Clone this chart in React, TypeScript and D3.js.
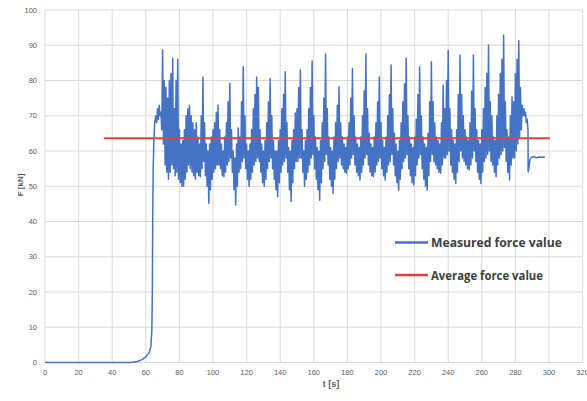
import React from "react";
import * as d3 from "d3";

// Ramp-up before the oscillating phase: [t (s), F (kN)]
const rampPoints: [number, number][] = [
  [0, 0], [20, 0], [40, 0], [50, 0], [52, 0.05], [55, 0.3], [58, 0.9], [60, 1.6],
  [62, 2.8], [63, 4.5], [63.6, 9], [63.9, 20], [64.1, 40], [64.4, 55], [64.8, 63],
  [65.3, 68],
];

// Oscillating phase, read per second from t = 66 s:
// top of the vibration band (upperBand) and bottom of it half a second later (lowerBand)
const oscStart = 66;
const upperBand: number[] = [
  70, 72, 73, 71, 88.7, 80, 78, 75, 80, 82, // 66-75
  86.3, 72, 80, 86, 66, 62, 63, 66, 70, 72, // 76-85
  73, 70, 68, 66, 68, 64, 62, 70, 81, 68, // 86-95
  62, 60, 62, 64, 66, 68, 71, 73, 66, 62, // 96-105
  60, 64, 68, 74, 79.2, 66, 60, 58, 62, 66.5, // 106-115
  64, 74, 83.9, 70, 62, 60, 62, 66, 72, 76, // 116-125
  81, 78, 66, 62, 60, 63, 68, 74, 80.6, 70, // 126-135
  63, 60, 60, 63, 66, 72, 76, 82.5, 68, 61, // 136-145
  60, 63, 66, 70.8, 72, 78, 83, 66, 60, 63, // 146-155
  66, 72, 78, 85.5, 70, 64, 61, 60, 63, 68, // 156-165
  75, 87.5, 72, 64, 61, 60, 64, 68, 73, 78.2, // 166-175
  68, 64, 62, 61, 64, 68, 75, 83.4, 70, 64, // 176-185
  62, 61, 64, 70, 77, 87.5, 72, 65, 62, 61, // 186-195
  64, 68, 74, 81, 68, 63, 61, 64, 70, 76, // 196-205
  84.4, 72, 65, 62, 60, 63, 68, 74, 79, 86.3, // 206-215
  70, 64, 62, 61, 64, 69, 76, 83.9, 70, 64, // 216-225
  62, 61, 65, 74, 85.3, 74, 68, 64, 63, 62, // 226-235
  68, 78.7, 72, 80, 88.5, 72, 66, 63, 62, 66, // 236-245
  76, 87.2, 76, 70, 66, 64, 63, 68, 77, 87.2, // 246-255
  72, 66, 63, 62, 66, 72, 78, 82, 90.1, 74, // 256-265
  70, 64, 63, 70, 76, 82, 86, 92.9, 74, 66, // 266-275
  64, 70, 75.4, 74, 82, 86, 91.3, 78, 73, 72, // 276-285
  71, 69, // 286-287
];
const lowerBand: number[] = [
  68, 69, 70, 66, 62, 56, 54, 52, 54, 56, // 66-75
  55, 53, 54, 52, 51, 50, 50, 52, 54, 56, // 76-85
  55, 54, 53, 52, 54, 53, 52.7, 55, 57, 53, // 86-95
  50, 45.2, 49, 52, 54, 55, 56, 56, 55, 53, // 96-105
  52.7, 54, 56, 57, 58, 54, 49, 44.7, 50, 54, // 106-115
  55, 57, 58, 55, 52, 50, 52, 54, 56, 57, // 116-125
  58, 57, 54, 51, 50, 52, 55, 57, 58, 55, // 126-135
  52, 49, 47, 51, 54, 56, 57, 58, 54, 49, // 136-145
  45.6, 51, 55, 57, 57, 58, 58, 54, 50, 52, // 146-155
  54, 56, 58, 59, 55, 52, 49, 46, 51, 55, // 156-165
  57, 59, 56, 52, 50, 48, 52, 55, 57, 58, // 166-175
  56, 55, 54, 53.7, 55, 56, 58, 59, 56, 54, // 176-185
  53, 51.8, 54, 56, 58, 59, 56, 54, 53, 52.7, // 186-195
  54, 56, 57, 58, 55, 53, 51.8, 54, 56, 57, // 196-205
  59, 56, 53, 51, 48.9, 52, 55, 57, 58, 59, // 206-215
  55, 53, 51, 50.4, 53, 56, 58, 59, 55, 52, // 216-225
  50, 48.9, 53, 57, 59, 57, 56, 55, 54, 53.7, // 226-235
  56, 58, 58, 59, 60, 56, 54, 52, 50.8, 54, // 236-245
  57, 60, 58, 57, 56, 55, 54.6, 56, 58, 60, // 246-255
  57, 54, 52, 50.8, 54, 57, 58, 59, 60, 57, // 256-265
  56, 54, 52.7, 56, 58, 59, 60, 61, 57, 54, // 266-275
  51.8, 56, 58, 58, 60, 62, 64, 66, 70, 70, // 276-285
  68, 66, // 286-287
];

// Drop and settled tail: [t (s), F (kN)]
const tailPoints: [number, number][] = [
  [287.6, 54.1], [288.1, 55.5], [288.7, 57.6], [289.5, 58.2], [291, 58.4],
  [292.5, 58.1], [294, 58.3], [295.5, 58.2], [297, 58.3], [297.6, 58.1],
];

const averageForce = 63.6;
const averageSpan: [number, number] = [35, 300.5];

const xTicks = [0, 20, 40, 60, 80, 100, 120, 140, 160, 180, 200, 220, 240, 260, 280, 300, 320];
const yTicks = [0, 10, 20, 30, 40, 50, 60, 70, 80, 90, 100];

const legendLabels = ["Measured force value", "Average force value"];
const xTitle = "t [s]";
const yTitle = "F  [kN]";

const BLUE = "#4472c4";
const RED = "#e2403c";

export default function App() {
  const W = 587;
  const H = 401;
  const x = d3.scaleLinear().domain([0, 320]).range([45, 582.6]);
  const y = d3.scaleLinear().domain([0, 100]).range([362.5, 10]);

  const osc: [number, number][] = [];
  upperBand.forEach((u, i) => {
    osc.push([oscStart + i, u]);
    osc.push([oscStart + i + 0.5, lowerBand[i]]);
  });

  const series: [number, number][] = [...rampPoints, ...osc, ...tailPoints];

  const line = d3
    .line<[number, number]>()
    .x((d) => x(d[0]))
    .y((d) => y(d[1]));

  const tickFont = "'Liberation Sans', Arial, sans-serif";

  return (
    <svg
      width={W}
      height={H}
      style={{ position: "absolute", left: 0, top: 0, background: "#fff" }}
    >
      <rect x={0} y={0} width={W} height={H} fill="#fff" />
      {/* grid */}
      {yTicks.map((t) => (
        <line
          key={"gy" + t}
          x1={x(0)}
          x2={x(320)}
          y1={y(t)}
          y2={y(t)}
          stroke="#d9d9d9"
          strokeWidth={1}
        />
      ))}
      {xTicks.map((t) => (
        <line
          key={"gx" + t}
          x1={x(t)}
          x2={x(t)}
          y1={y(0)}
          y2={y(100)}
          stroke="#d9d9d9"
          strokeWidth={1}
        />
      ))}
      {/* tick labels */}
      {yTicks.map((t) => (
        <text
          key={"ly" + t}
          x={37}
          y={y(t)}
          dy="0.35em"
          textAnchor="end"
          fontSize={7.5}
          fontFamily={tickFont}
          fill="#595959"
        >
          {t}
        </text>
      ))}
      {xTicks.map((t) => (
        <text
          key={"lx" + t}
          x={x(t)}
          y={375}
          textAnchor="middle"
          fontSize={7.5}
          fontFamily={tickFont}
          fill="#595959"
        >
          {t}
        </text>
      ))}
      {/* axis titles */}
      <text
        x={331}
        y={387}
        textAnchor="middle"
        fontSize={9}
        fontWeight="bold"
        fontFamily={tickFont}
        fill="#595959"
      >
        {xTitle}
      </text>
      <text
        transform={`translate(23,${185}) rotate(-90)`}
        textAnchor="middle"
        fontSize={8}
        fontWeight="bold"
        fontFamily={tickFont}
        fill="#595959"
      >
        {yTitle}
      </text>
      {/* measured series */}
      <path d={line(series) || ""} fill="none" stroke={BLUE} strokeWidth={1.5} strokeLinejoin="round" />
      {/* average */}
      <line
        x1={x(averageSpan[0])}
        x2={x(averageSpan[1])}
        y1={y(averageForce)}
        y2={y(averageForce)}
        stroke={RED}
        strokeWidth={2}
      />
      {/* legend */}
      {legendLabels.map((lab, i) => {
        const ly = 242.5 + i * 32.5;
        return (
          <g key={lab}>
            <line x1={395} x2={428} y1={ly} y2={ly} stroke={i === 0 ? BLUE : RED} strokeWidth={2.5} />
            <text
              x={431}
              y={ly}
              dy="0.35em"
              fontSize={13}
              fontWeight="bold"
              fontFamily="'Open Sans', sans-serif"
              fill="#404040"
              textLength={i === 0 ? 131 : 112}
              lengthAdjust="spacingAndGlyphs"
            >
              {lab}
            </text>
          </g>
        );
      })}
    </svg>
  );
}
